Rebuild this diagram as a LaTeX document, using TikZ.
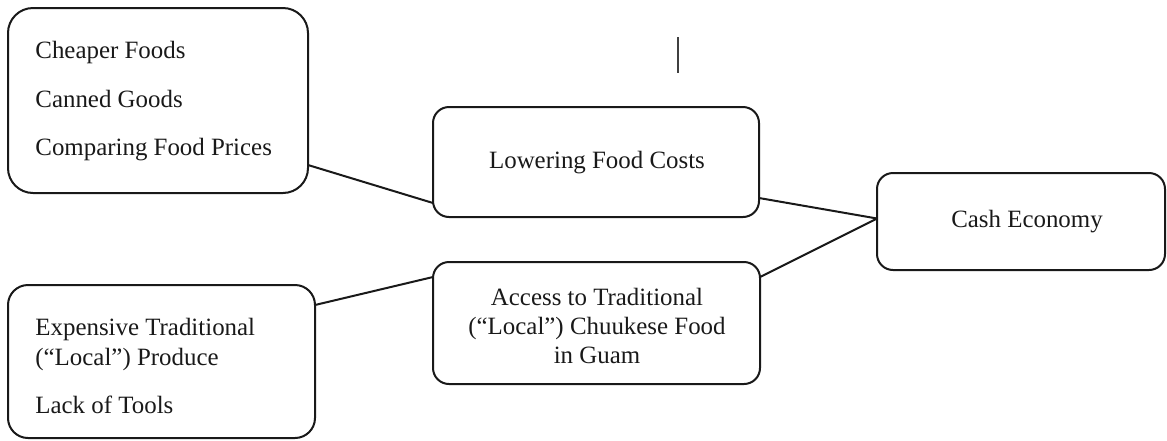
\documentclass[tikz,border=0pt]{standalone}
\usepackage{fontspec}
\setmainfont{Liberation Serif}
\usetikzlibrary{calc}
\begin{document}
\begin{tikzpicture}[x=0.5pt,y=-0.5pt,
  box/.style={draw=black!90, line width=1pt, rounded corners=#1, inner sep=0pt, outer sep=0pt},
  txt/.style={inner sep=0pt, font=\fontsize{12.45}{14.5}\selectfont, text=black!90},
  link/.style={draw=black!90, line width=1pt}]
\useasboundingbox (0,0) rectangle (1167,440);
% boxes
\node[box=12.5pt, minimum width=150pt, minimum height=92.5pt] (A) at (158,100.5) {};
\node[box=8pt, minimum width=163pt, minimum height=55pt] (B) at (596,162) {};
\node[box=8pt, minimum width=144pt, minimum height=48.5pt] (C) at (1021,221.5) {};
\node[box=8pt, minimum width=163.5pt, minimum height=61pt] (D) at (596.5,323) {};
\node[box=10pt, minimum width=153.5pt, minimum height=76.5pt] (E) at (161.5,361.5) {};
% texts
\node[txt, anchor=base west] (a1) at (35,58) {Cheaper Foods};
\node[txt, anchor=base west] (a2) at (35,107) {Canned Goods};
\node[txt, anchor=base west] (a3) at (35,155) {Comparing Food Prices};
\node[txt, anchor=base] (b1) at (597,168) {Lowering Food Costs};
\node[txt, anchor=base] (c1) at (1027,227) {Cash Economy};
\node[txt, anchor=base] (d1) at (597,305) {Access to Traditional};
\node[txt, anchor=base] (d2) at (597,334) {(“Local”) Chuukese Food};
\node[txt, anchor=base] (d3) at (597,363) {in Guam};
\node[txt, anchor=base west] (e1) at (35,335) {Expensive Traditional};
\node[txt, anchor=base west] (e2) at (35,365) {(“Local”) Produce};
\node[txt, anchor=base west] (e3) at (35,413) {Lack of Tools};
% connectors
\coordinate (cin) at ($(C.west)+(0,-3)$);
\draw[link] ($(A.south east)+(0,-28)$) -- ($(B.south west)+(0,-14)$);
\draw[link] ($(B.south east)+(0,-19)$) -- (cin);
\draw[link] ($(D.north east)+(0,15)$) -- (cin);
\draw[link] ($(E.north east)+(0,20)$) -- ($(D.north west)+(0,15)$);
% stray cursor mark
\coordinate (m1) at (678,37);
\coordinate (m2) at (678,73);
\draw[line width=0.8pt, black!75] (m1) -- (m2);
\end{tikzpicture}
\end{document}
